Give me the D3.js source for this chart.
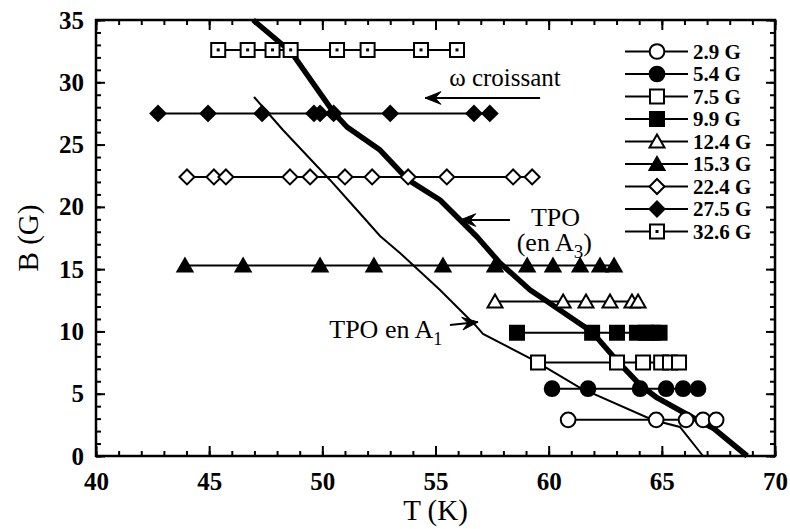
<!DOCTYPE html>
<html><head><meta charset="utf-8">
<script src="https://cdn.jsdelivr.net/npm/d3@7"></script>
<style>
body{margin:0;background:#fff}
svg text{font-family:"Liberation Serif","Times New Roman",serif;fill:#000}
</style>
</head><body>
<svg id="chart" width="790" height="529"></svg>
<script>
// ---------- data ----------
const fieldLabels = ["2.9 G","5.4 G","7.5 G","9.9 G","12.4 G","15.3 G","22.4 G","27.5 G","32.6 G"];
const fieldB      = [2.9, 5.4, 7.5, 9.9, 12.4, 15.3, 22.4, 27.5, 32.6];
const markerTypes = ["circleOpen","circleFilled","squareOpen","squareFilled","triangleOpen","triangleFilled","diamondOpen","diamondFilled","squareDot"];

const T_2_9  = [60.86, 64.75, 66.07, 66.82, 67.40];
const T_5_4  = [60.15, 61.74, 64.04, 65.19, 65.94, 66.60];
const T_7_5  = [59.53, 63.02, 64.17, 64.97, 65.36, 65.76];
const T_9_9  = [58.60, 61.92, 63.02, 63.90, 64.30, 64.60, 64.90];
const T_12_4 = [57.63, 60.64, 61.65, 62.71, 63.68, 63.95];
const T_15_3 = [43.93, 46.50, 49.90, 52.28, 55.33, 57.63, 59.05, 60.19, 61.39, 62.27, 62.89];
const T_22_4 = [44.02, 45.21, 45.74, 48.57, 49.46, 51.00, 52.20, 53.79, 55.50, 58.43, 59.27];
const T_27_5 = [42.74, 44.95, 47.34, 49.63, 49.90, 50.50, 53.00, 56.70, 57.40];
const T_32_6 = [45.40, 46.70, 47.80, 48.60, 50.65, 52.00, 54.36, 55.95];
const seriesT = [T_2_9, T_5_4, T_7_5, T_9_9, T_12_4, T_15_3, T_22_4, T_27_5, T_32_6];

// TPO (en A3) thick line
const tpoA3_T = [46.94, 48.62, 50.52, 51.09, 52.55, 53.79, 55.20, 56.84, 57.85, 59.18, 59.84, 61.92, 63.07, 64.04, 64.80, 66.56, 67.26, 68.77];
const tpoA3_B = [35.00, 32.43, 27.53, 26.41, 24.56, 22.16, 20.55, 17.58, 15.49, 13.33, 12.52, 9.95, 7.55, 5.70, 4.66, 2.89, 2.25, 0.00];
// TPO en A1 thin line
const tpoA1_T = [46.98, 48.26, 50.34, 51.53, 52.55, 53.43, 55.20, 56.75, 57.10, 59.31, 61.39, 64.60, 65.80, 66.82];
const tpoA1_B = [28.82, 26.17, 22.16, 19.75, 17.66, 16.30, 13.33, 10.52, 9.80, 7.71, 5.46, 2.89, 2.33, 0.00];

const xTickValues = [40, 45, 50, 55, 60, 65, 70];
const yTickValues = [0, 5, 10, 15, 20, 25, 30, 35];

// ---------- layout ----------
const svg = d3.select("#chart");
const L = 96, R = 775, T = 20, B = 456;
const x = d3.scaleLinear().domain([40, 70]).range([L, R]);
const y = d3.scaleLinear().domain([0, 35]).range([B, T]);

// axes (ticks inward on all four sides)
const minorX = d3.range(40, 71, 1), minorY = d3.range(0, 36, 1);
function styleAxis(g){ g.select(".domain").remove(); g.selectAll("line").attr("stroke","#000").attr("stroke-width",2); }

svg.append("g").attr("transform",`translate(0,${B})`)
  .call(d3.axisBottom(x).tickValues(minorX).tickSize(-5).tickFormat("")).call(styleAxis);
svg.append("g").attr("transform",`translate(0,${B})`)
  .call(d3.axisBottom(x).tickValues(xTickValues).tickSize(-10).tickPadding(16).tickFormat(d3.format("d")))
  .call(styleAxis)
  .selectAll("text").attr("font-size",25).attr("font-weight","bold").attr("font-family","Liberation Serif");
svg.append("g").attr("transform",`translate(0,${T})`)
  .call(d3.axisTop(x).tickValues(minorX).tickSize(-5).tickFormat("")).call(styleAxis);
svg.append("g").attr("transform",`translate(0,${T})`)
  .call(d3.axisTop(x).tickValues(xTickValues).tickSize(-10).tickFormat("")).call(styleAxis);

svg.append("g").attr("transform",`translate(${L},0)`)
  .call(d3.axisLeft(y).tickValues(minorY).tickSize(-5).tickFormat("")).call(styleAxis);
svg.append("g").attr("transform",`translate(${L},0)`)
  .call(d3.axisLeft(y).tickValues(yTickValues).tickSize(-9).tickPadding(12).tickFormat(d3.format("d")))
  .call(styleAxis)
  .selectAll("text").attr("font-size",25).attr("font-weight","bold").attr("font-family","Liberation Serif");
svg.append("g").attr("transform",`translate(${R},0)`)
  .call(d3.axisRight(y).tickValues(minorY).tickSize(-5).tickFormat("")).call(styleAxis);
svg.append("g").attr("transform",`translate(${R},0)`)
  .call(d3.axisRight(y).tickValues(yTickValues).tickSize(-9).tickFormat("")).call(styleAxis);

// frame
svg.append("rect").attr("x",L).attr("y",T).attr("width",R-L).attr("height",B-T)
  .attr("fill","none").attr("stroke","#000").attr("stroke-width",2.5);

// axis titles
svg.append("text").attr("x",(L+R)/2).attr("y",520).attr("text-anchor","middle")
  .attr("font-size",29).text("T (K)");
svg.append("text").attr("transform",`translate(38,${(T+B)/2}) rotate(-90)`).attr("text-anchor","middle")
  .attr("font-size",29).text("B (G)");

// ---------- TPO lines ----------
const line = d3.line().x(d=>x(d[0])).y(d=>y(d[1]));
svg.append("path").datum(tpoA1_T.map((t,i)=>[t,tpoA1_B[i]]))
  .attr("d",line).attr("fill","none").attr("stroke","#000").attr("stroke-width",2);
svg.append("path").datum(tpoA3_T.map((t,i)=>[t,tpoA3_B[i]]))
  .attr("d",line).attr("fill","none").attr("stroke","#000").attr("stroke-width",5.5).attr("stroke-linejoin","round");

// ---------- markers ----------
function markerPath(type){
  if (type.startsWith("circle")) return d3.symbol(d3.symbolCircle, 170)();
  if (type.startsWith("square")) return "M-7,-7H7V7H-7Z";
  if (type.startsWith("triangle")) return "M0,-7L7.5,6L-7.5,6Z";
  if (type.startsWith("diamond")) return "M0,-7.5L7.5,0L0,7.5L-7.5,0Z";
}
function drawMarker(g, type, cx, cy){
  const filled = type.endsWith("Filled");
  g.append("path").attr("d", markerPath(type)).attr("transform",`translate(${cx},${cy})`)
    .attr("fill", filled ? "#000" : "#fff").attr("stroke","#000").attr("stroke-width",2);
  if (type === "squareDot")
    g.append("rect").attr("x",cx-1.5).attr("y",cy-1.5).attr("width",3).attr("height",3).attr("fill","#000");
}

const gSeries = svg.append("g");
seriesT.forEach((ts,i)=>{
  const b = fieldB[i];
  gSeries.append("line").attr("x1",x(d3.min(ts))).attr("x2",x(d3.max(ts)))
    .attr("y1",y(b)).attr("y2",y(b)).attr("stroke","#000").attr("stroke-width",2);
  ts.forEach(t=>drawMarker(gSeries, markerTypes[i], x(t), y(b)));
});

// ---------- legend ----------
const gLeg = svg.append("g");
fieldLabels.forEach((lab,i)=>{
  const cy = 51.5 + i*22.5;
  gLeg.append("line").attr("x1",625).attr("x2",688).attr("y1",cy).attr("y2",cy).attr("stroke","#000").attr("stroke-width",2);
  drawMarker(gLeg, markerTypes[i], 657, cy);
  gLeg.append("text").attr("x",693).attr("y",cy+7).attr("font-size",21).attr("font-weight","bold").text(lab);
});

// ---------- annotations ----------
function arrow(t1,b1,t2,b2){ // arrow pointing to (t2,b2)
  const x1=x(t1), y1=y(b1), x2=x(t2), y2=y(b2);
  const a=Math.atan2(y2-y1,x2-x1), len=17, w=0.38;
  svg.append("line").attr("x1",x1).attr("y1",y1).attr("x2",x2).attr("y2",y2).attr("stroke","#000").attr("stroke-width",2);
  svg.append("path").attr("d",`M${x2},${y2}L${x2-len*Math.cos(a-w)},${y2-len*Math.sin(a-w)}L${x2-0.6*len*Math.cos(a)},${y2-0.6*len*Math.sin(a)}L${x2-len*Math.cos(a+w)},${y2-len*Math.sin(a+w)}Z`)
    .attr("fill","#000").attr("stroke","#000").attr("stroke-width",1);
}
svg.append("text").attr("x",x(58.07)).attr("y",y(29.7)).attr("text-anchor","middle").attr("font-size",25).text("ω croissant");
arrow(59.62, 28.74, 54.54, 28.74);

// two-line label "TPO / (en A3)" as one text element
const tpo = svg.append("text").attr("x",x(60.3)).attr("y",y(18.5)).attr("text-anchor","middle").attr("font-size",26);
tpo.append("tspan").attr("x",x(60.3)).text("TPO");
tpo.append("tspan").attr("x",x(60.25)).attr("dy",25.5).text("(en A");
tpo.append("tspan").attr("dy",7).attr("font-size",19).text("3");
tpo.append("tspan").attr("dy",-7).text(")");
arrow(58.29, 18.94, 56.08, 18.94);

const a1 = svg.append("text").attr("x",x(55.3)).attr("y",y(9.47)).attr("text-anchor","end").attr("font-size",26);
a1.append("tspan").text("TPO en A");
a1.append("tspan").attr("dy",7).attr("font-size",18).text("1");
arrow(55.64, 10.52, 56.88, 10.76);
</script>
</body></html>
